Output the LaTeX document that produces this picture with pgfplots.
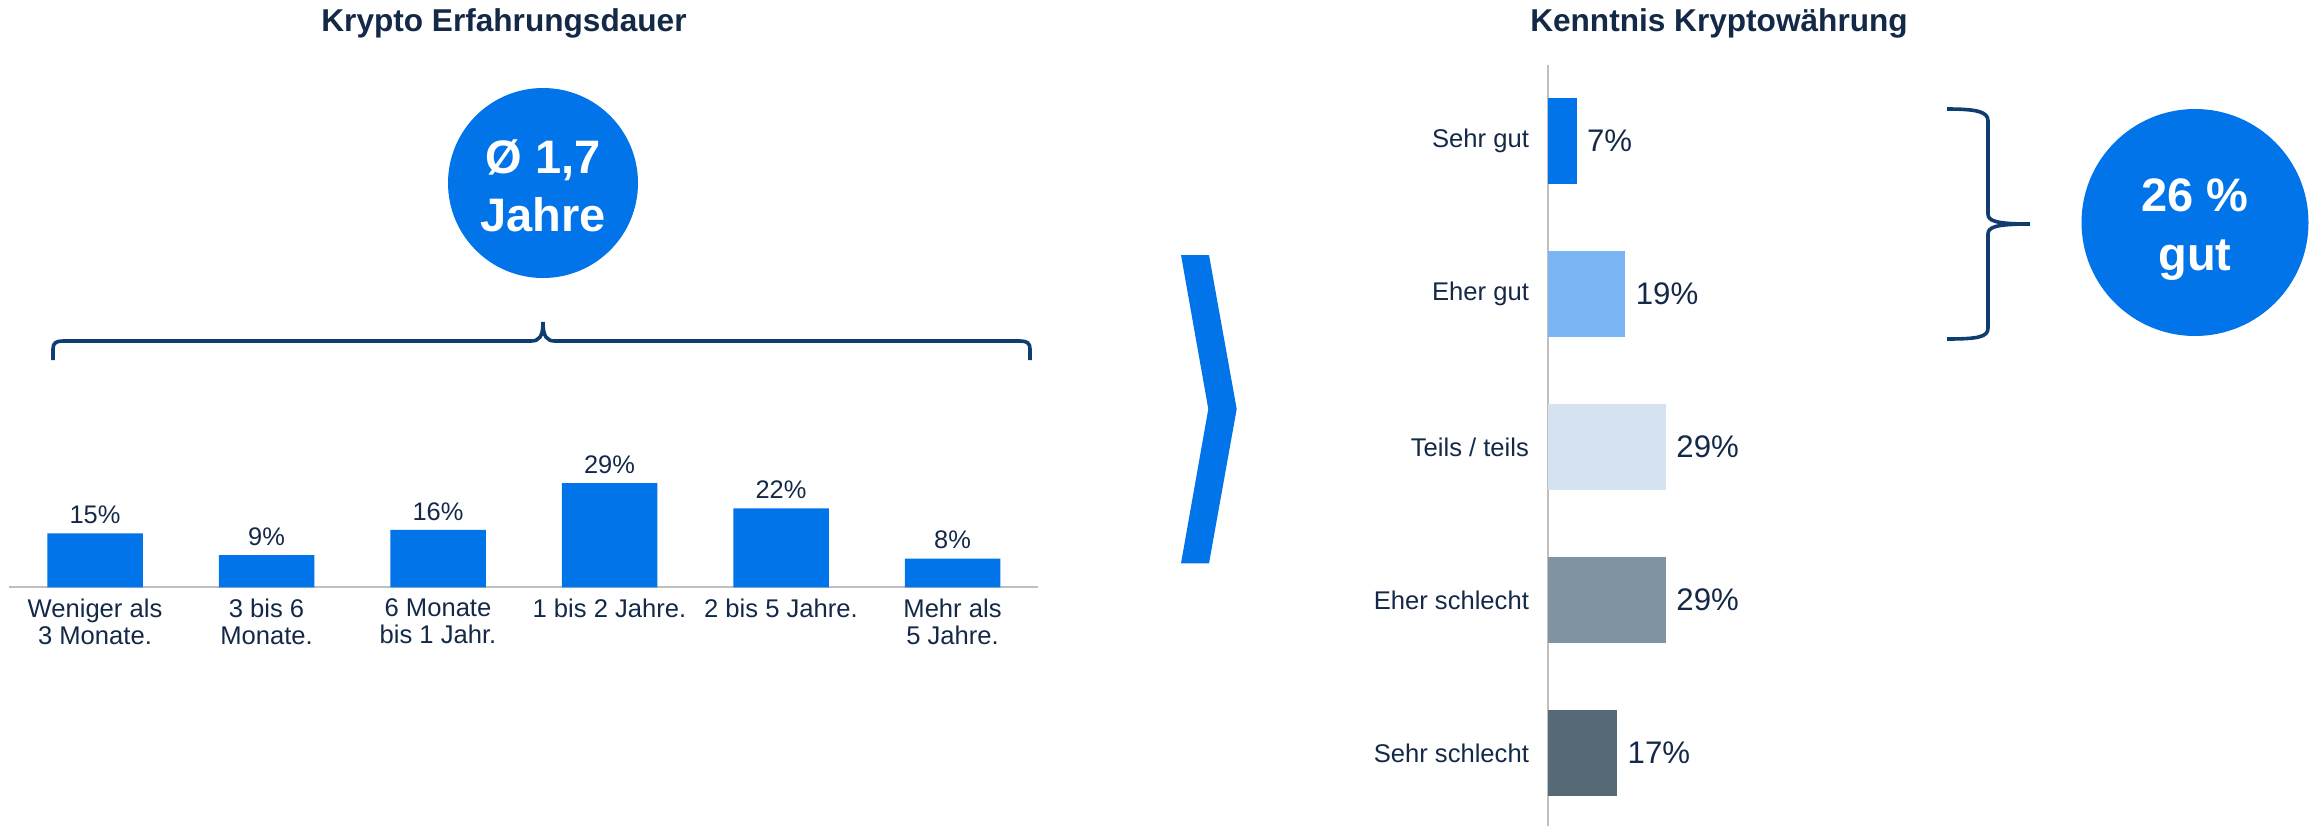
\documentclass[border=0pt]{standalone}
\usepackage{pgfplots}
\pgfplotsset{compat=1.18}
\usepackage{fontspec}
\setmainfont{Liberation Sans}
\definecolor{mainblue}{RGB}{0,116,232}
\definecolor{lightblue}{RGB}{120,181,242}
\definecolor{paleblue}{RGB}{213,227,240}
\definecolor{greyblue}{RGB}{128,147,163}
\definecolor{slate}{RGB}{86,105,119}
\definecolor{navy}{RGB}{20,41,72}
\definecolor{bracecol}{RGB}{15,61,112}
\definecolor{axisgray}{RGB}{191,191,191}

\begin{document}
\begin{tikzpicture}
\useasboundingbox (0,0) rectangle (1159pt,-413pt);

% ---------- decorations (coordinates in reference pixels) ----------
\begin{scope}[x=0.5pt,y=-0.5pt]
  \node[font=\fontsize{15.8}{18}\selectfont\bfseries, text=navy, anchor=base, inner sep=0pt] at (504,31.7) {Krypto Erfahrungsdauer};
  \node[font=\fontsize{15.8}{18}\selectfont\bfseries, text=navy, anchor=base, inner sep=0pt] at (1719,31.7) {Kenntnis Kryptowährung};

  % left circle
  \fill[mainblue] (543,183) circle[radius=47.5pt];
  \node[font=\fontsize{23.5}{28}\selectfont\bfseries, text=white, anchor=base, inner sep=0pt] at (543,173) {Ø 1,7};
  \node[font=\fontsize{23.5}{28}\selectfont\bfseries, text=white, anchor=base, inner sep=0pt] at (543,231) {Jahre};

  % left brace
  \draw[bracecol, line width=1.8pt] (53,360) -- (53,349) .. controls (53,343) and (56,341) .. (63,341)
     -- (531,341) .. controls (539,341) and (543,337) .. (543,322)
     .. controls (543,337) and (547,341) .. (555,341)
     -- (1020,341) .. controls (1027,341) and (1030,343) .. (1030,349) -- (1030,360);

  % chevron
  \fill[mainblue] (1181,255) -- (1209,255) -- (1236.7,409) -- (1209,563.3) -- (1181,563.3) -- (1208.3,409) -- cycle;

  % right brace
  \draw[bracecol, line width=1.8pt] (1947,109) .. controls (1978,109) and (1988,112) .. (1988,121)
     -- (1988,214) .. controls (1988,221) and (1996,224) .. (2030,224)
     .. controls (1996,224) and (1988,227) .. (1988,234)
     -- (1988,328) .. controls (1988,337) and (1978,339) .. (1947,339);

  % right circle
  \fill[mainblue] (2195,222.5) circle[radius=56.75pt];
  \node[font=\fontsize{23.5}{28}\selectfont\bfseries, text=white, anchor=base, inner sep=0pt] at (2195,211.7) {26 \%};
  \node[font=\fontsize{23.5}{28}\selectfont\bfseries, text=white, anchor=base, inner sep=0pt] at (2195,270) {gut};
\end{scope}

% ---------- left chart ----------
\begin{axis}[
  at={(4.625pt,-293.65pt)}, anchor=south west,
  scale only axis, width=514.5pt, height=53.85pt,
  xmin=-0.5, xmax=5.5, ymin=0, ymax=30,
  axis x line=bottom, axis y line=none,
  x axis line style={draw=axisgray, line width=1pt, -},
  xtick={0,1,2,3,4,5},
  xticklabels={{Weniger als\\3 Monate.},{3 bis 6\\Monate.},{6 Monate\\bis 1 Jahr.},{1 bis 2 Jahre.},{2 bis 5 Jahre.},{Mehr als\\5 Jahre.}},
  xticklabel style={font=\fontsize{12.8}{13.35}\selectfont, text=navy, align=center, yshift=-2.2pt},
  major tick length=0pt, tick style={draw=none},
  ybar, bar width=47.75pt,
  /pgf/number format/assume math mode=true,
  nodes near coords={\pgfmathprintnumber{\pgfplotspointmeta}\%},
  every node near coord/.append style={font=\fontsize{12.7}{15}\selectfont, text=navy, anchor=south, inner sep=0pt, yshift=4.5pt},
  clip=false,
]
\addplot[fill=mainblue, draw=none, bar shift=0pt] coordinates {(0,15) (1,9) (2,16) (3,29) (4,22) (5,8)};
\end{axis}

% ---------- right chart ----------
\begin{axis}[
  at={(774.15pt,-413pt)}, anchor=south west,
  scale only axis, width=60.9pt, height=380.75pt,
  xmin=0, xmax=30, ymin=-0.477, ymax=4.5,
  axis y line=left, axis x line=none,
  y axis line style={draw=axisgray, line width=0.9pt, -},
  ytick={0,1,2,3,4},
  yticklabels={Sehr schlecht, Eher schlecht, Teils / teils, Eher gut, Sehr gut},
  yticklabel style={font=\fontsize{12.8}{15}\selectfont, text=navy, inner sep=0pt, xshift=-9.5pt},
  major tick length=0pt, tick style={draw=none},
  xbar, bar width=42.75pt, bar shift=0pt,
  point meta=x,
  /pgf/number format/assume math mode=true,
  nodes near coords={\pgfmathprintnumber{\pgfplotspointmeta}\%},
  every node near coord/.append style={font=\fontsize{15.6}{18}\selectfont, text=navy, anchor=west, inner sep=0pt, xshift=5pt},
  clip=false,
]
\addplot[fill=mainblue, draw=none, bar shift=0pt] coordinates {(7,4)};
\addplot[fill=lightblue, draw=none, bar shift=0pt] coordinates {(19,3)};
\addplot[fill=paleblue, draw=none, bar shift=0pt] coordinates {(29,2)};
\addplot[fill=greyblue, draw=none, bar shift=0pt] coordinates {(29,1)};
\addplot[fill=slate, draw=none, bar shift=0pt] coordinates {(17,0)};
\end{axis}
\end{tikzpicture}
\end{document}
